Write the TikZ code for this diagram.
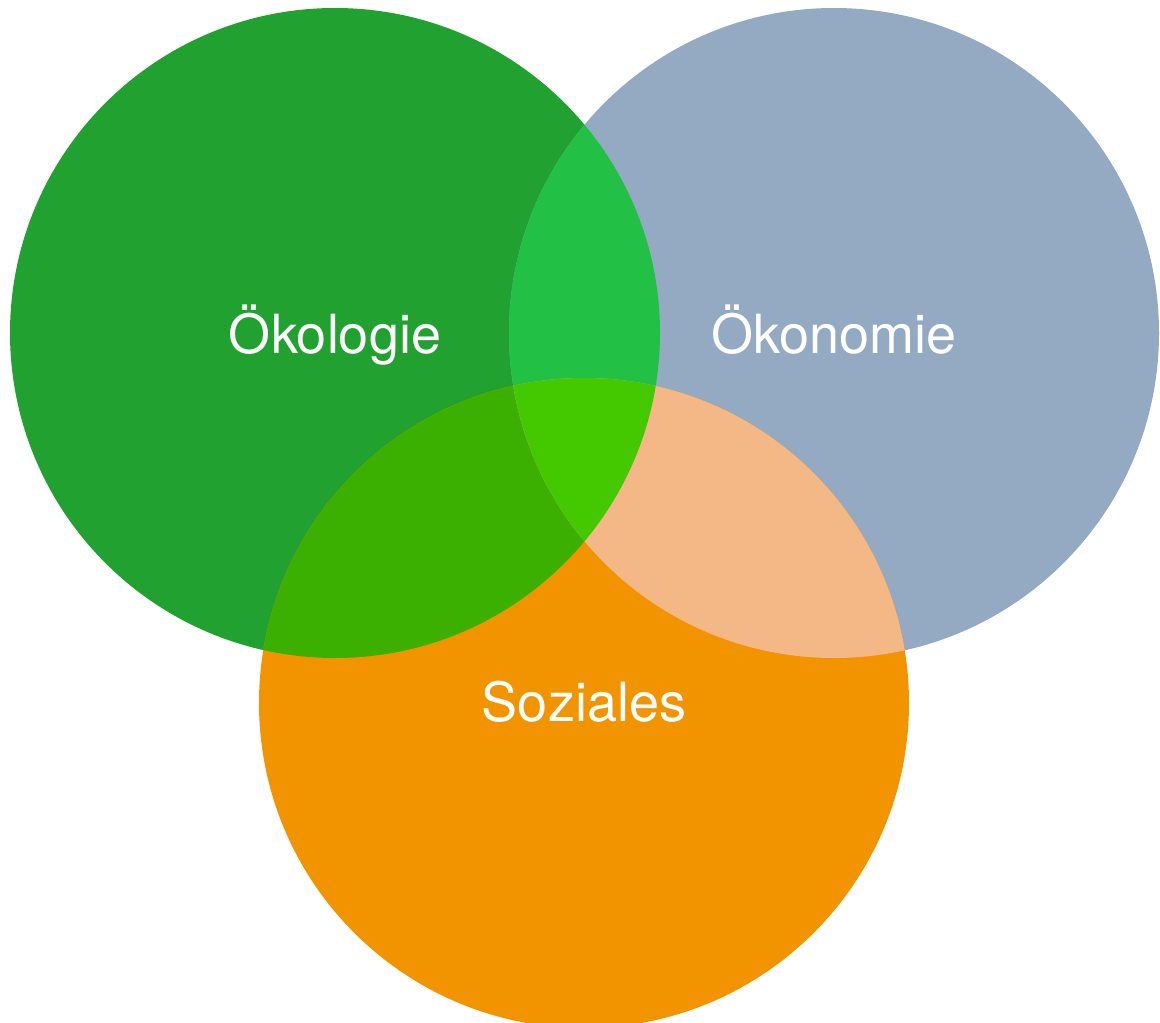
\documentclass[tikz,border=0pt]{standalone}
\usepackage{fontspec}
\setmainfont{TeX Gyre Heros}
\definecolor{cEco}{HTML}{21A12F}
\definecolor{cOek}{HTML}{93AAC2}
\definecolor{cSoz}{HTML}{F29400}
\definecolor{cEO}{HTML}{22C146}
\definecolor{cES}{HTML}{3CB000}
\definecolor{cOS}{HTML}{F4B886}
\definecolor{cAll}{HTML}{44C800}
\begin{document}
\begin{tikzpicture}[x=1pt,y=-1pt,
  lbl/.style={text=white,font=\fontsize{54}{60}\selectfont,inner sep=0pt,anchor=base}]
\useasboundingbox (0,0) rectangle (1160,1023);
\begin{scope}
\clip (0,0) rectangle (1160,1023);
\coordinate (E) at (335,333);
\coordinate (O) at (834,333);
\coordinate (S) at (584,703);
\fill[cEco] (E) circle[radius=325];
\fill[cOek] (O) circle[radius=325];
\fill[cSoz] (S) circle[radius=325];
\begin{scope}
\clip (E) circle[radius=325];
\fill[cEO] (O) circle[radius=325];
\fill[cES] (S) circle[radius=325];
\end{scope}
\begin{scope}
\clip (O) circle[radius=325];
\fill[cOS] (S) circle[radius=325];
\end{scope}
\begin{scope}
\clip (E) circle[radius=325];
\clip (O) circle[radius=325];
\fill[cAll] (S) circle[radius=325];
\end{scope}
\end{scope}
\node[lbl] (tE) at (335,353) {Ökologie};
\node[lbl] (tO) at (834,353) {Ökonomie};
\node[lbl] (tS) at (584,721) {Soziales};
\end{tikzpicture}
\end{document}
